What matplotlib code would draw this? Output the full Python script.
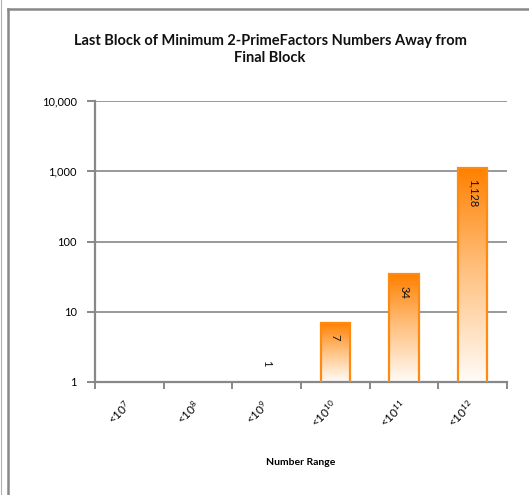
#!/usr/bin/env python3
"""Log-scale bar chart: last block of min 2-prime-factor numbers away from final block."""
import numpy as np
import matplotlib
matplotlib.use("Agg")
import matplotlib.pyplot as plt
from matplotlib.lines import Line2D
from matplotlib.colors import LinearSegmentedColormap
from matplotlib.ticker import FixedLocator, FuncFormatter, NullFormatter

W, H = 529, 495
FONT = "Lato"
GRAY = "#888888"; INK = "#111111"
plt.rcParams.update({"font.family": [FONT, "DejaVu Sans"], "mathtext.fontset": "custom",
                     "mathtext.rm": FONT, "mathtext.it": FONT, "mathtext.bf": FONT + ":bold",
                     "text.color": INK})

# ---------- data ----------
exponents = [7, 8, 9, 10, 11, 12]
values = [np.nan, np.nan, 1, 7, 34, 1128]
yticks = [1, 10, 100, 1000, 10000]
title = "Last Block of Minimum 2-PrimeFactors Numbers Away from\nFinal Block"
xlabel = "Number Range"

labels = [f"<10$^{{{e}}}$" for e in exponents]
vals = np.array(values, dtype=float)

fig = plt.figure(figsize=(W / 100, H / 100), dpi=100)
ax = fig.add_axes([95 / W, 1 - 382 / H, (507 - 95) / W, (382 - 101) / H])
ax.set_yscale("log")
ax.set_xlim(0, len(exponents)); ax.set_ylim(yticks[0], yticks[-1])

x = np.arange(len(exponents)) + 0.5
# a bar of height 1 has no visible extent on a log axis starting at 1
shown = np.where(vals > 1, vals, np.nan)
bars = ax.bar(x, shown, width=0.43, facecolor="none", edgecolor="#ff8a12", lw=1.6, zorder=3)

# vertical gradient inside every bar: orange at top, white at the base
cmap = LinearSegmentedColormap.from_list("g", [(0, "#fffcf8"), (0.55, "#ffbd78"), (1, "#ff8000")])
grad = np.linspace(0, 1, 256).reshape(-1, 1)
to_ax = ax.transAxes.inverted()
for rect, v in zip(bars, shown):
    if not np.isfinite(v):
        continue
    x0 = rect.get_x(); x1 = x0 + rect.get_width()
    a0, atop = to_ax.transform(ax.transData.transform((x0, v)))
    a1, _ = to_ax.transform(ax.transData.transform((x1, v)))
    im = ax.imshow(grad, extent=(a0, a1, 0, atop), origin="lower", transform=ax.transAxes,
                   cmap=cmap, aspect="auto", zorder=2, interpolation="bilinear")
    im.set_clip_path(rect)
ax.set_xlim(0, len(exponents)); ax.set_ylim(yticks[0], yticks[-1])

# value labels, rotated, at the inside end of each bar
for xi, v in zip(x, vals):
    if not np.isfinite(v):
        continue
    if v > 1:
        ax.annotate(f"{v:,.0f}", (xi, v), xytext=(0, -8), textcoords="offset points",
                    rotation=-90, ha="center", va="top", fontsize=8, zorder=4)
    else:
        ax.annotate(f"{v:,.0f}", (xi, v), xytext=(0, 11), textcoords="offset points",
                    rotation=-90, ha="center", va="bottom", fontsize=8, zorder=4)

# axes styling
for s in ("top", "right"):
    ax.spines[s].set_visible(False)
for s in ("left", "bottom"):
    ax.spines[s].set_color(GRAY); ax.spines[s].set_linewidth(1.6)
ax.yaxis.set_major_locator(FixedLocator(yticks))
ax.yaxis.set_minor_locator(FixedLocator([]))
ax.yaxis.set_major_formatter(FuncFormatter(lambda v, p: f"{v:,.0f}"))
ax.tick_params(axis="y", which="major", length=6, width=1.4, color=GRAY, labelsize=8, pad=7)
ax.grid(axis="y", color=GRAY, lw=1.2)
ax.set_axisbelow(True)

ax.xaxis.set_major_locator(FixedLocator(np.arange(len(exponents) + 1)))
ax.xaxis.set_major_formatter(NullFormatter())
ax.xaxis.set_minor_locator(FixedLocator(x))
ax.set_xticklabels(labels, minor=True)
ax.tick_params(axis="x", which="major", length=5, width=1.4, color=GRAY)
ax.tick_params(axis="x", which="minor", length=0, labelsize=8.5, pad=15)
for t in ax.get_xticklabels(minor=True):
    t.set_rotation(45); t.set_ha("right"); t.set_va("center"); t.set_rotation_mode("anchor")

ax.set_xlabel(xlabel, fontsize=7.5, fontweight="bold")
ax.xaxis.set_label_coords(0.5, -0.27)

fig.text(270 / W, 1 - 49.5 / H, title, ha="center", va="center", fontsize=10.5,
         fontweight="bold", linespacing=1.35)

# chart-area frame as it appears in the crop
fig.add_artist(Line2D([1 / W, 1 / W], [0, 1], color="#b0b0b0", lw=0.8))
fig.add_artist(Line2D([7.5 / W, 7.5 / W], [0, 1 - 8.5 / H], color=GRAY, lw=1.8))
fig.add_artist(Line2D([7.5 / W, 1], [1 - 8.5 / H, 1 - 8.5 / H], color=GRAY, lw=1.8))

fig.savefig("out.png", dpi=100, facecolor="white")
print("saved out.png")
